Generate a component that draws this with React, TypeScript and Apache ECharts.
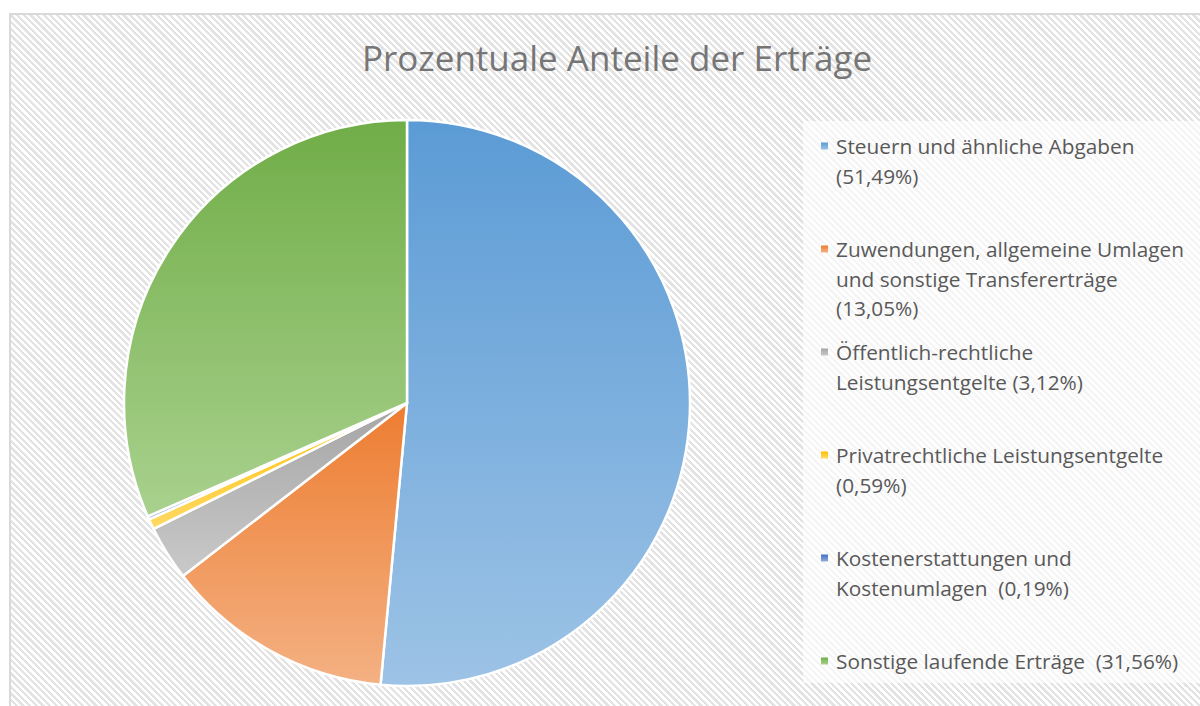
import React, { useEffect, useRef } from "react";
import * as echarts from "echarts";

const chartTitle = "Prozentuale Anteile der Erträge";
const categories = [
  "Steuern und ähnliche Abgaben",
  "Zuwendungen, allgemeine Umlagen und sonstige Transfererträge",
  "Öffentlich-rechtliche Leistungsentgelte",
  "Privatrechtliche Leistungsentgelte",
  "Kostenerstattungen und Kostenumlagen",
  "Sonstige laufende Erträge",
];
const values = [51.49, 13.05, 3.12, 0.59, 0.19, 31.56];
const legendLines = [
  ["Steuern und ähnliche Abgaben", "(51,49%)"],
  ["Zuwendungen, allgemeine Umlagen", "und sonstige Transfererträge", "(13,05%)"],
  ["Öffentlich-rechtliche", "Leistungsentgelte (3,12%)"],
  ["Privatrechtliche Leistungsentgelte", "(0,59%)"],
  ["Kostenerstattungen und", "Kostenumlagen  (0,19%)"],
  ["Sonstige laufende Erträge  (31,56%)"],
];
const topColors = ["#5B9BD5", "#ED7D31", "#A5A5A5", "#FFC000", "#4472C4", "#70AD47"];
const bottomColors = ["#9DC3E6", "#F4B183", "#C9C9C9", "#FFD966", "#8FAADC", "#A9D18E"];

const FONT = "'Open Sans', sans-serif";

export default function App() {
  const ref = useRef<HTMLDivElement>(null);
  useEffect(() => {
    if (!ref.current) return;
    const chart = echarts.init(ref.current, undefined, { renderer: "svg" });
    const grad = (i: number) =>
      new echarts.graphic.LinearGradient(0, 0, 0, 1, [
        { offset: 0, color: topColors[i] },
        { offset: 1, color: bottomColors[i] },
      ]);
    const legendItems: any[] = [];
    legendLines.forEach((lines, i) => {
      const y0 = 146 + i * 103;
      legendItems.push({
        type: "rect",
        shape: { x: 821, y: y0 - 3.5, width: 7, height: 7 },
        style: { fill: grad(i) },
        z: 10,
      });
      legendItems.push({
        type: "text",
        x: 836,
        y: y0 - 14.75,
        style: {
          text: lines.join("\n"),
          fontFamily: FONT,
          fontSize: 20.8,
          lineHeight: 29.5,
          fill: "#595959",
          verticalAlign: "top",
          align: "left",
        },
        z: 10,
      });
    });
    chart.setOption({
      animation: false,
      backgroundColor: "transparent",
      title: {
        text: chartTitle,
        left: 612,
        top: 35,
        textAlign: "center",
        textStyle: {
          fontFamily: FONT,
          fontSize: 35,
          fontWeight: "normal",
          color: "#767676",
        },
      },
      graphic: [
        {
          type: "rect",
          shape: { x: 803, y: 121, width: 420, height: 562 },
          style: { fill: "rgba(255,255,255,0.65)" },
          z: 1,
        },
        ...legendItems,
      ],
      series: [
        {
          type: "pie",
          center: [407, 403],
          radius: 283,
          startAngle: 90,
          clockwise: true,
          label: { show: false },
          labelLine: { show: false },
          emphasis: { disabled: true },
          itemStyle: { borderColor: "#ffffff", borderWidth: 2.5 },
          data: categories.map((name, i) => ({
            name,
            value: values[i],
            itemStyle: { color: grad(i) },
          })),
        },
      ],
    });
    return () => chart.dispose();
  }, []);
  return (
    <div style={{ position: "absolute", left: 0, top: 0, width: 1200, height: 706, background: "#ffffff", overflow: "hidden" }}>
      <div
        style={{
          position: "absolute",
          left: 9,
          top: 13,
          width: 1250,
          height: 750,
          borderLeft: "2px solid #d9d9d9",
          borderTop: "2px solid #d9d9d9",
          background:
            "repeating-linear-gradient(45deg, #ffffff 0px, #ffffff 2.4px, #e3e3e3 2.4px, #e3e3e3 4.7px)",
        }}
      />
      <div ref={ref} style={{ position: "absolute", left: 0, top: 0, width: 1200, height: 706 }} />
    </div>
  );
}
